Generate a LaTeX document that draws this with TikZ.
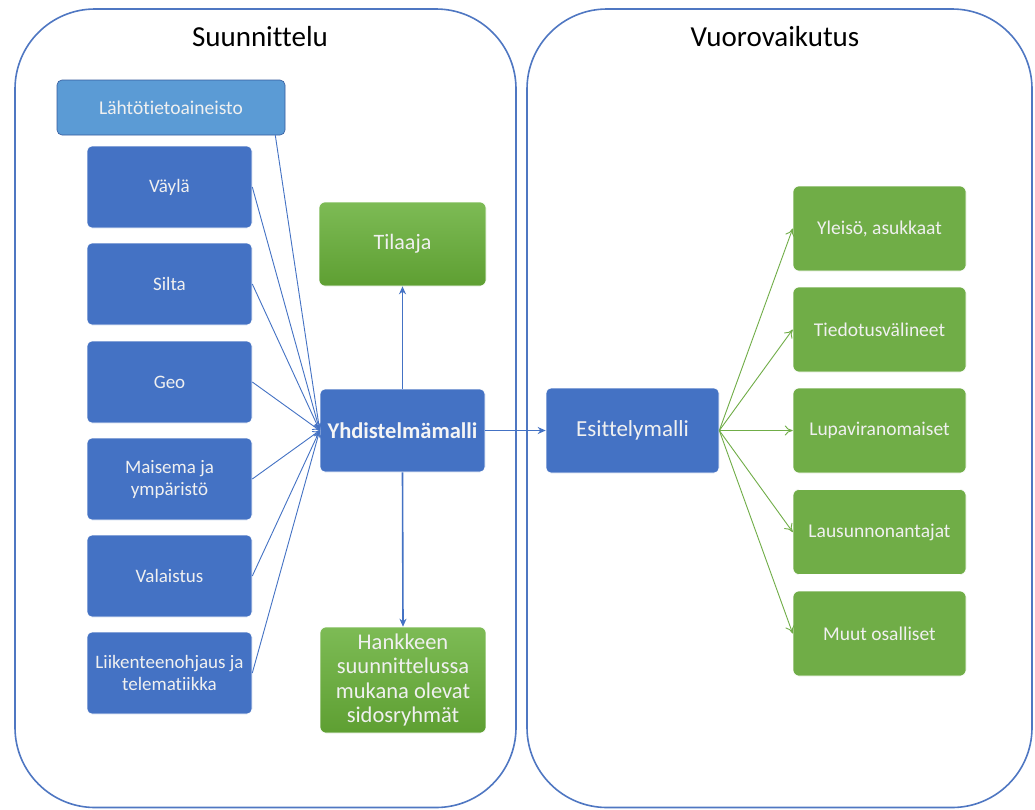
\documentclass[tikz,border=0pt]{standalone}
\usepackage{fontspec}
\setmainfont{Carlito}[Ligatures=NoCommon]
\usetikzlibrary{arrows.meta}
\definecolor{oblue}{HTML}{4472C4}
\definecolor{lblue}{HTML}{5B9BD5}
\definecolor{ogreen}{HTML}{70AD47}
\definecolor{gtop}{HTML}{7DBB55}
\definecolor{gbot}{HTML}{5E9F32}
\definecolor{frame}{HTML}{4F77C2}
\tikzset{
  panel/.style={draw=frame, line width=1.6pt, rounded corners=80pt},
  bbox/.style={fill=oblue, draw=white, line width=0.6pt, rounded corners=5pt, minimum width=165pt, minimum height=82pt, text=white!94!black, align=center, font=\fontsize{19}{22}\selectfont, inner sep=2pt},
  gbox/.style={fill=ogreen, draw=white, line width=0.6pt, rounded corners=6pt, minimum width=173pt, minimum height=85pt, text=white!94!black, align=center, font=\fontsize{19.5}{22}\selectfont},
  ggrad/.style={top color=gtop, bottom color=gbot, draw=white, line width=0.6pt, rounded corners=6pt, text=white!94!black, align=center},
  thinarrow/.style={draw=oblue, line width=0.9pt, -{To[length=7pt,width=8pt]}},
  bluearrow/.style={draw=oblue, line width=1.6pt, -{Stealth[length=8pt,width=7pt]}},
  greenarrow/.style={draw=ogreen, line width=0.9pt, -{To[length=8pt,width=10pt]}},
  title/.style={font=\fontsize{29}{33}\selectfont, text=black}
}
\begin{document}
\begin{tikzpicture}[x=1pt,y=-1pt]
\useasboundingbox (0,0) rectangle (1035,809);
\fill[white] (0,0) rectangle (1035,809);
% panels
\draw[panel] (15,9) rectangle (516,807.5);
\draw[panel] (527,9) rectangle (1032,807.5);
\node[title] (t1) at (260,37) {Suunnittelu};
\node[title] (t2) at (775,37) {Vuorovaikutus};
% left column
\node[fill=lblue, draw=oblue!80!black, line width=0.6pt, rounded corners=5pt, minimum width=228pt, minimum height=55pt, text=white!94!black, font=\fontsize{19.5}{22}\selectfont] (lahto) at (171,107.5) {Lähtötietoaineisto};
\node[bbox] (vayla) at (169.5,187) {Väylä};
\node[bbox] (silta) at (169.5,284) {Silta};
\node[bbox] (geo) at (169.5,382) {Geo};
\node[bbox] (maisema) at (169.5,479) {Maisema ja\\ympäristö};
\node[bbox] (valaistus) at (169.5,576) {Valaistus};
\node[bbox] (liikenne) at (169.5,673) {Liikenteenohjaus ja\\telematiikka};
% middle
\node[ggrad, minimum width=167pt, minimum height=84pt, font=\fontsize{22}{25}\selectfont] (tilaaja) at (402.5,244) {Tilaaja};
\node[fill=oblue, draw=white, line width=0.6pt, rounded corners=5pt, minimum width=165pt, minimum height=83pt, text=white!96!black, font=\bfseries\fontsize{22.5}{25}\selectfont] (yhd) at (402.5,430.5) {Yhdistelmämalli};
\node[ggrad, minimum width=166pt, minimum height=106pt, font=\fontsize{22.5}{24.5}\selectfont, inner sep=1pt] (hank) at (403,680) {Hankkeen\\suunnittelussa\\mukana olevat\\sidosryhmät};
% right
\node[fill=oblue, draw=white, line width=0.6pt, rounded corners=5pt, minimum width=173pt, minimum height=85pt, text=white!94!black, font=\fontsize{23}{26}\selectfont] (esit) at (632.5,430.5) {Esittelymalli};
\node[gbox] (yleiso) at (879.5,228.5) {Yleisö, asukkaat};
\node[gbox] (tiedotus) at (879.5,329.5) {Tiedotusvälineet};
\node[gbox] (lupa) at (879.5,430.5) {Lupaviranomaiset};
\node[gbox] (lausunto) at (879.5,532) {Lausunnonantajat};
\node[gbox] (muut) at (879.5,633.5) {Muut osalliset};
% converging arrows
\draw[thinarrow] ([xshift=-10pt]lahto.south east) -- (yhd.west);
\draw[thinarrow] (vayla.east) -- (yhd.west);
\draw[thinarrow] (silta.east) -- (yhd.west);
\draw[thinarrow] (geo.east) -- (yhd.west);
\draw[thinarrow] (maisema.east) -- (yhd.west);
\draw[thinarrow] (valaistus.east) -- (yhd.west);
\draw[thinarrow] (liikenne.east) -- (yhd.west);
% from Yhdistelmämalli
\draw[bluearrow] (yhd.north) -- (tilaaja.south);
\draw[bluearrow] (yhd.south) -- (hank.north);
\draw[bluearrow] (yhd.east) -- (esit.west);
% green fan
\draw[greenarrow] (esit.east) -- (yleiso.west);
\draw[greenarrow] (esit.east) -- (tiedotus.west);
\draw[greenarrow] (esit.east) -- (lupa.west);
\draw[greenarrow] (esit.east) -- (lausunto.west);
\draw[greenarrow] (esit.east) -- (muut.west);
\end{tikzpicture}
\end{document}
